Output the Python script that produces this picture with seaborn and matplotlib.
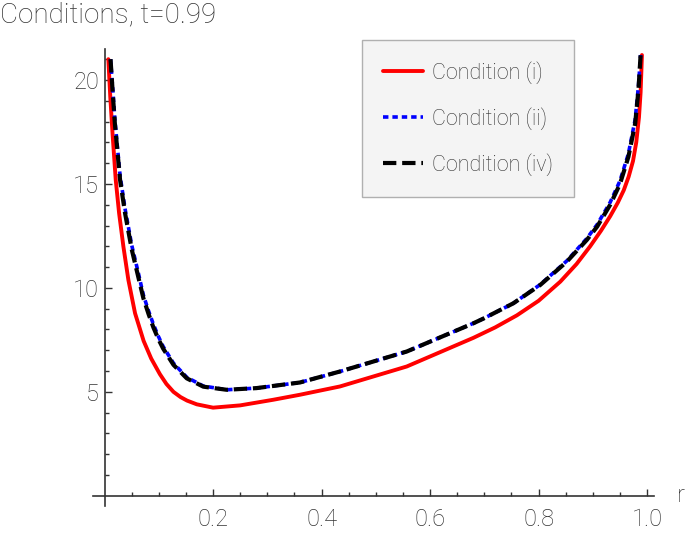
import matplotlib
matplotlib.use('Agg')
import matplotlib.pyplot as plt
from matplotlib.ticker import FixedLocator
import seaborn as sns

# 곡선 데이터
r_i = [0.007, 0.0105, 0.015, 0.0206, 0.0268, 0.0347, 0.0439, 0.0562, 0.072, 0.086,
       0.102, 0.114, 0.127, 0.14, 0.152, 0.17, 0.20, 0.25, 0.311, 0.36,
       0.434, 0.557, 0.68, 0.72, 0.76, 0.80, 0.84, 0.87, 0.895, 0.915,
       0.932, 0.946, 0.957, 0.966, 0.974, 0.980, 0.985, 0.988, 0.9905]
y_i = [21.0, 19.2, 17.3, 15.19, 13.59, 11.99, 10.38, 8.78, 7.45, 6.6,
       5.85, 5.38, 5.0, 4.75, 4.58, 4.4, 4.24, 4.35, 4.62, 4.86,
       5.26, 6.22, 7.6, 8.1, 8.68, 9.38, 10.3, 11.15, 12.0, 12.75,
       13.45, 14.1, 14.7, 15.35, 16.1, 17.0, 18.2, 19.4, 21.2]

r_iv = [0.011, 0.015, 0.019, 0.0286, 0.0378, 0.0501, 0.0624, 0.0716, 0.081, 0.09,
        0.099, 0.108, 0.127, 0.1515, 0.182, 0.225, 0.28, 0.36, 0.434, 0.557,
        0.68, 0.698, 0.7535, 0.803, 0.852, 0.889, 0.908, 0.932, 0.950, 0.9655,
        0.978, 0.984, 0.988]
y_ii = [21.0, 19.6, 18.1, 15.4, 13.8, 12.05, 10.7, 9.65, 8.9, 8.25,
        7.68, 7.18, 6.38, 5.7, 5.28, 5.10, 5.18, 5.45, 5.98, 6.94,
        8.3, 8.52, 9.26, 10.16, 11.3, 12.38, 13.05, 14.12, 15.15, 16.45,
        18.1, 19.7, 21.2]
y_iv = [21.0, 19.4, 17.9, 15.19, 13.59, 11.85, 10.5, 9.5, 8.75, 8.1,
        7.55, 7.08, 6.3, 5.65, 5.25, 5.10, 5.18, 5.45, 5.98, 6.94,
        8.3, 8.52, 9.26, 10.14, 11.26, 12.31, 12.95, 14.0, 15.0, 16.3,
        17.9, 19.5, 21.2]

labels = ['Condition (i)', 'Condition (ii)', 'Condition (iv)']
x_ticks = [0.2, 0.4, 0.6, 0.8, 1.0]
y_ticks = [5, 10, 15, 20]
x_minor = [i * 0.05 for i in range(1, 21)]
y_minor = list(range(1, 22))

sns.set_style('white')
plt.rcParams['font.family'] = ['Roboto', 'DejaVu Sans']
plt.rcParams['font.weight'] = 'light'
txt_color = '#333333'

fig = plt.figure(figsize=(6.85, 5.34), dpi=100)
ax = fig.add_axes([91 / 685, 7 / 534, 572 / 685, 499 / 534])

sns.lineplot(x=r_i, y=y_i, ax=ax, color='#ff0000', lw=2.8, sort=False,
             estimator=None, label=labels[0])
sns.lineplot(x=r_iv, y=y_ii, ax=ax, color='#0000ff', lw=2.6, sort=False,
             estimator=None, label=labels[1], linestyle=(0, (1.5, 1.1)))
sns.lineplot(x=r_iv, y=y_iv, ax=ax, color='black', lw=3.0, sort=False,
             estimator=None, label=labels[2], linestyle=(0, (3.2, 1.4)))

ax.set_xlim(-0.025, 1.0293)
ax.set_ylim(-1.5, 22.5)

# 축: 원점 기준
for s in ['top', 'right']:
    ax.spines[s].set_visible(False)
ax.spines['left'].set_position(('data', 0))
ax.spines['bottom'].set_position(('data', 0))
ax.spines['left'].set_bounds(-0.5, 21.5)
ax.spines['bottom'].set_bounds(-0.022, 1.012)
for s in ['left', 'bottom']:
    ax.spines[s].set_color(txt_color)
    ax.spines[s].set_linewidth(1.2)

ax.xaxis.set_major_locator(FixedLocator(x_ticks))
ax.yaxis.set_major_locator(FixedLocator(y_ticks))
ax.xaxis.set_minor_locator(FixedLocator(x_minor))
ax.yaxis.set_minor_locator(FixedLocator(y_minor))
ax.set_xticklabels([f'{v:.1f}' for v in x_ticks])
ax.tick_params(which='both', direction='in', color=txt_color, width=1,
               bottom=True, left=True, labelsize=17, labelcolor=txt_color)
ax.tick_params(which='major', length=5)
ax.tick_params(which='minor', length=3)
ax.tick_params(axis='x', which='both', pad=9)
ax.tick_params(axis='y', which='both', pad=4)
ax.set_xlabel('')
ax.set_ylabel('')

ax.text(1.055, 0, 'r', fontsize=17, color=txt_color, va='center', ha='left')
fig.text(0.0, 1 - 15 / 534, 'Conditions, t=0.99', fontsize=20,
         color=txt_color, va='center', ha='left')

ax.legend(loc='upper left', bbox_to_anchor=(362 / 685, 1 - 40 / 534),
          bbox_transform=fig.transFigure, borderaxespad=0,
          fontsize=15.5, labelspacing=1.07, handlelength=1.85, handletextpad=0.42,
          borderpad=0.98, fancybox=False, framealpha=1,
          facecolor='#f4f4f4', edgecolor='#b0b0b0', labelcolor=txt_color)

fig.savefig('out.png', dpi=100)
